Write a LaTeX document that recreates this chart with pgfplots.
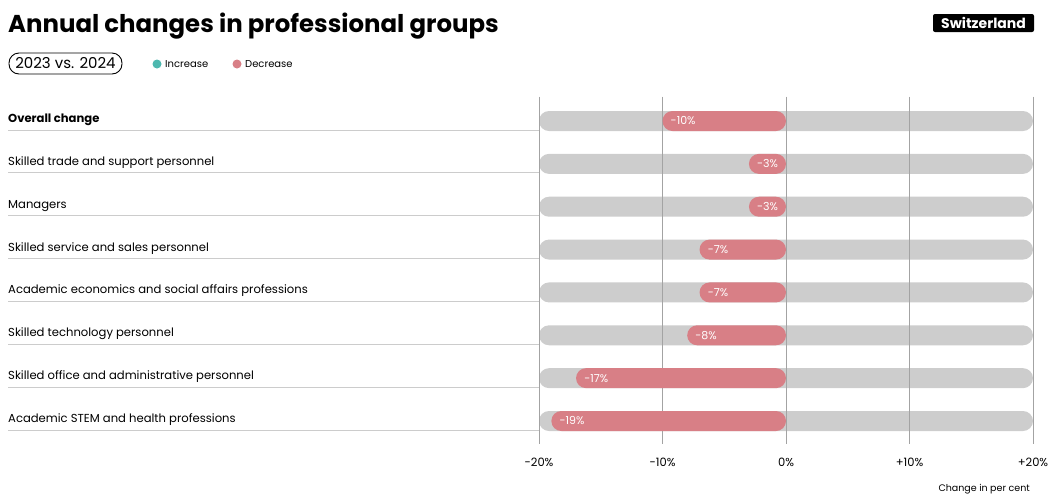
\documentclass[border=0pt]{standalone}
\usepackage{fontspec}
\setmainfont{Poppins}
\usepackage{pgfplots}
\pgfplotsset{compat=1.18}
\usepackage{pgfplotstable}
\definecolor{decr}{HTML}{D87F86}
\definecolor{incr}{HTML}{4DB8AF}
\definecolor{track}{HTML}{CDCDCD}
\definecolor{gridc}{HTML}{A3A3A3}
\definecolor{ulc}{HTML}{CCCCCC}

\pgfplotstableread{
row value label
0 -10 -10
1 -3 -3
2 -3 -3
3 -7 -7
4 -7 -7
5 -8 -8
6 -17 -17
7 -19 -19
}\data

\pgfplotstableread{
row span
0 40
1 40
2 40
3 40
4 40
5 40
6 40
7 40
}\track

\begin{document}
\begin{tikzpicture}
\path[use as bounding box] (0pt,0pt) rectangle (1048pt,-496pt);

% title
\node[anchor=base west, inner sep=0pt, font=\fontsize{24.4}{28}\selectfont\bfseries] at (8pt,-32pt) {Annual changes in professional groups};
\node[fill=black, rounded corners=2pt, text=white, inner xsep=3pt, inner ysep=1pt, minimum height=18pt, minimum width=101pt, font=\fontsize{14}{16}\selectfont\bfseries] at (983.5pt,-23pt) {Switzerland};

% subtitle pill
\draw[black, line width=0.9pt, rounded corners=10pt] (9pt,-53pt) rectangle (122pt,-74pt);
\node[font=\fontsize{15}{17}\selectfont, inner sep=0pt] at (65.5pt,-63.5pt) {2023 vs. 2024};

% legend
\fill[incr] (157pt,-64pt) circle (4.5pt);
\node[anchor=west, inner sep=0pt, font=\fontsize{10}{12}\selectfont] at (165pt,-64pt) {Increase};
\fill[decr] (237pt,-64pt) circle (4.5pt);
\node[anchor=west, inner sep=0pt, font=\fontsize{10}{12}\selectfont] at (245pt,-64pt) {Decrease};

% background tracks
\begin{axis}[
  at={(539pt,-96.5pt)}, anchor=north west,
  scale only axis, width=494pt, height=347.5pt,
  xmin=0, xmax=40, ymin=-0.572, ymax=7.537, y dir=reverse,
  hide axis,
]
\addplot[xbar, bar width=20pt, fill=track, draw=none, rounded corners=10pt] table[x=span, y=row] \track;
\end{axis}

% main axis
\begin{axis}[
  at={(539pt,-96.5pt)}, anchor=north west,
  scale only axis, width=494pt, height=347.5pt,
  xmin=-20, xmax=20, ymin=-0.572, ymax=7.537, y dir=reverse,
  axis line style={draw=none},
  major tick length=0pt,
  xtick={-20,-10,0,10,20},
  xticklabels={-20\%,-10\%,0\%,+10\%,+20\%},
  xticklabel style={anchor=base, yshift=-22pt, inner sep=0pt, font=\fontsize{11.5}{13}\selectfont},
  xmajorgrids, grid style={gridc, line width=0.8pt},
  ytick={0,...,7},
  yticklabels={\textbf{Overall change},Skilled trade and support personnel,Managers,Skilled service and sales personnel,Academic economics and social affairs professions,Skilled technology personnel,Skilled office and administrative personnel,Academic STEM and health professions},
  yticklabel style={anchor=base west, xshift=-531pt, yshift=-1.5pt, inner sep=0pt, font=\fontsize{11.6}{13}\selectfont},
  clip=false,
]
\pgfplotsinvokeforeach{0,...,7}{
  \draw[ulc, line width=0.8pt] ([yshift=-9pt]axis cs:-20,#1) -- ++(-531pt,0pt);
}
\addplot[xbar, bar width=20pt, fill=decr, draw=none, rounded corners=10pt,
  point meta=explicit symbolic,
  nodes near coords={\pgfplotspointmeta\%},
  every node near coord/.append style={anchor=west, text=white, inner sep=0pt, xshift=8pt, font=\fontsize{11}{12}\selectfont, rounded corners=0pt},
] table[x=value, y=row, meta=label] \data;
\end{axis}

\node[anchor=base east, inner sep=0pt, font=\fontsize{9.5}{11}\selectfont] at (1030pt,-491.5pt) {Change in per cent};
\end{tikzpicture}
\end{document}
